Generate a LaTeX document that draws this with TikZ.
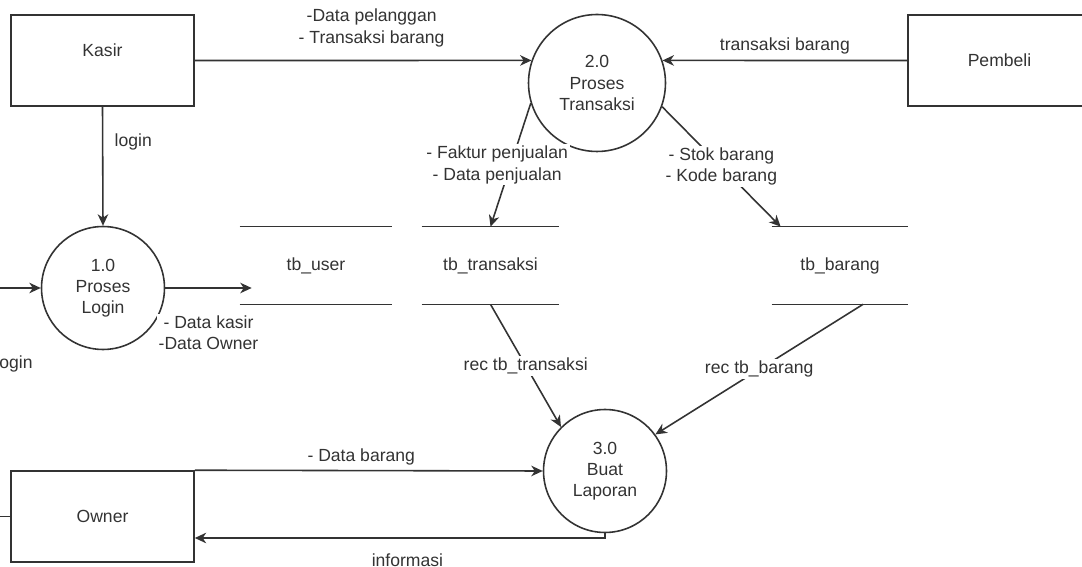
\documentclass[tikz,border=0pt]{standalone}
\usepackage{fontspec}
\setmainfont{Liberation Sans}
\usetikzlibrary{arrows.meta}

\definecolor{ink}{HTML}{333333}

\begin{document}
\begin{tikzpicture}[x=0.02cm,y=-0.02cm,>={Stealth[length=6.5pt,width=6pt,inset=2pt]},
  every node/.style={font=\fontsize{10}{12}\selectfont, text=ink},
  line/.style={draw=ink, line width=0.9pt},
  entity/.style={line, rectangle, minimum width=3.66cm, minimum height=1.82cm, inner sep=0},
  proc/.style={line, circle, inner sep=0, align=center},
  store/.style={minimum height=1.54cm, inner sep=0},
  lbl/.style={fill=white, inner sep=1pt, align=center}]
\useasboundingbox (0,0) rectangle (1082,567);
\clip (0,0) rectangle (1082,567);

% entities
\node[entity] (kasir) at (102.5,60.5) {};
\node (kasirtxt) at (102.5,50) {Kasir};
\node[entity] (pembeli) at (999.5,60.5) {Pembeli};
\node[entity] (owner) at (102.5,516.5) {Owner};

% processes
\node[proc, minimum size=2.46cm] (p1) at (103,288) {1.0\\Proses\\Login};
\node[proc, minimum size=2.74cm] (p2) at (597,83) {2.0\\Proses\\Transaksi};
\node[proc, minimum size=2.46cm] (p3) at (605,471) {3.0\\Buat\\Laporan};

% data stores
\node[store, minimum width=3.04cm] (user) at (316,265.5) {tb\_user};
\node[store, minimum width=2.74cm] (trans) at (490.5,265.5) {tb\_transaksi};
\node[store, minimum width=2.72cm] (barang) at (840,265.5) {tb\_barang};
\foreach \s in {user,trans,barang}
  \draw[line] (\s.north west) -- (\s.north east) (\s.south west) -- (\s.south east);

% flows
\draw[line,->] (kasir.east) -- (p2.161)
  node[lbl,pos=.5,xshift=0.17cm,yshift=0.65cm] {-Data pelanggan\\- Transaksi barang};
\draw[line,->] (pembeli.west) -- (p2.19)
  node[lbl,pos=.5,yshift=0.3cm] {transaksi barang};
\draw[line,->] (kasir.south) -- (p1.north)
  node[lbl,pos=.5,xshift=0.61cm,yshift=0.48cm] {login};
\draw[line,->] (owner.west) -- ++(-20,0) |- (p1.west);
\node[lbl] (lgn) at (14,364) {login};
\coordinate (uin) at ([xshift=0.24cm]user.west);
\draw[line,->] (p1.east) -- (uin |- p1.east)
  node[lbl,pos=.5,yshift=-0.9cm] {- Data kasir\\-Data Owner};
\draw[line,->] (p2.197) -- (trans.north)
  node[lbl,pos=.5,xshift=-0.27cm] {- Faktur penjualan\\- Data penjualan};
\draw[line,->] (p2.340) -- ([xshift=0.18cm]barang.north west)
  node[lbl,pos=.5] {- Stok barang\\- Kode barang};
\draw[line,->] (trans.south) -- (p3.135)
  node[lbl,pos=.5] {rec tb\_transaksi};
\draw[line,->] ([xshift=0.46cm]barang.south) -- (p3.36)
  node[lbl,pos=.5] {rec tb\_barang};
\draw[line,->] (owner.north east) -- (p3.west)
  node[lbl,pos=.5,xshift=-0.15cm,yshift=0.28cm] {- Data barang};
\draw[line,->] (p3.south) |- ([yshift=-0.43cm]owner.east)
  node[lbl,pos=.75,xshift=0.15cm,yshift=-0.44cm] {informasi};
\end{tikzpicture}
\end{document}
